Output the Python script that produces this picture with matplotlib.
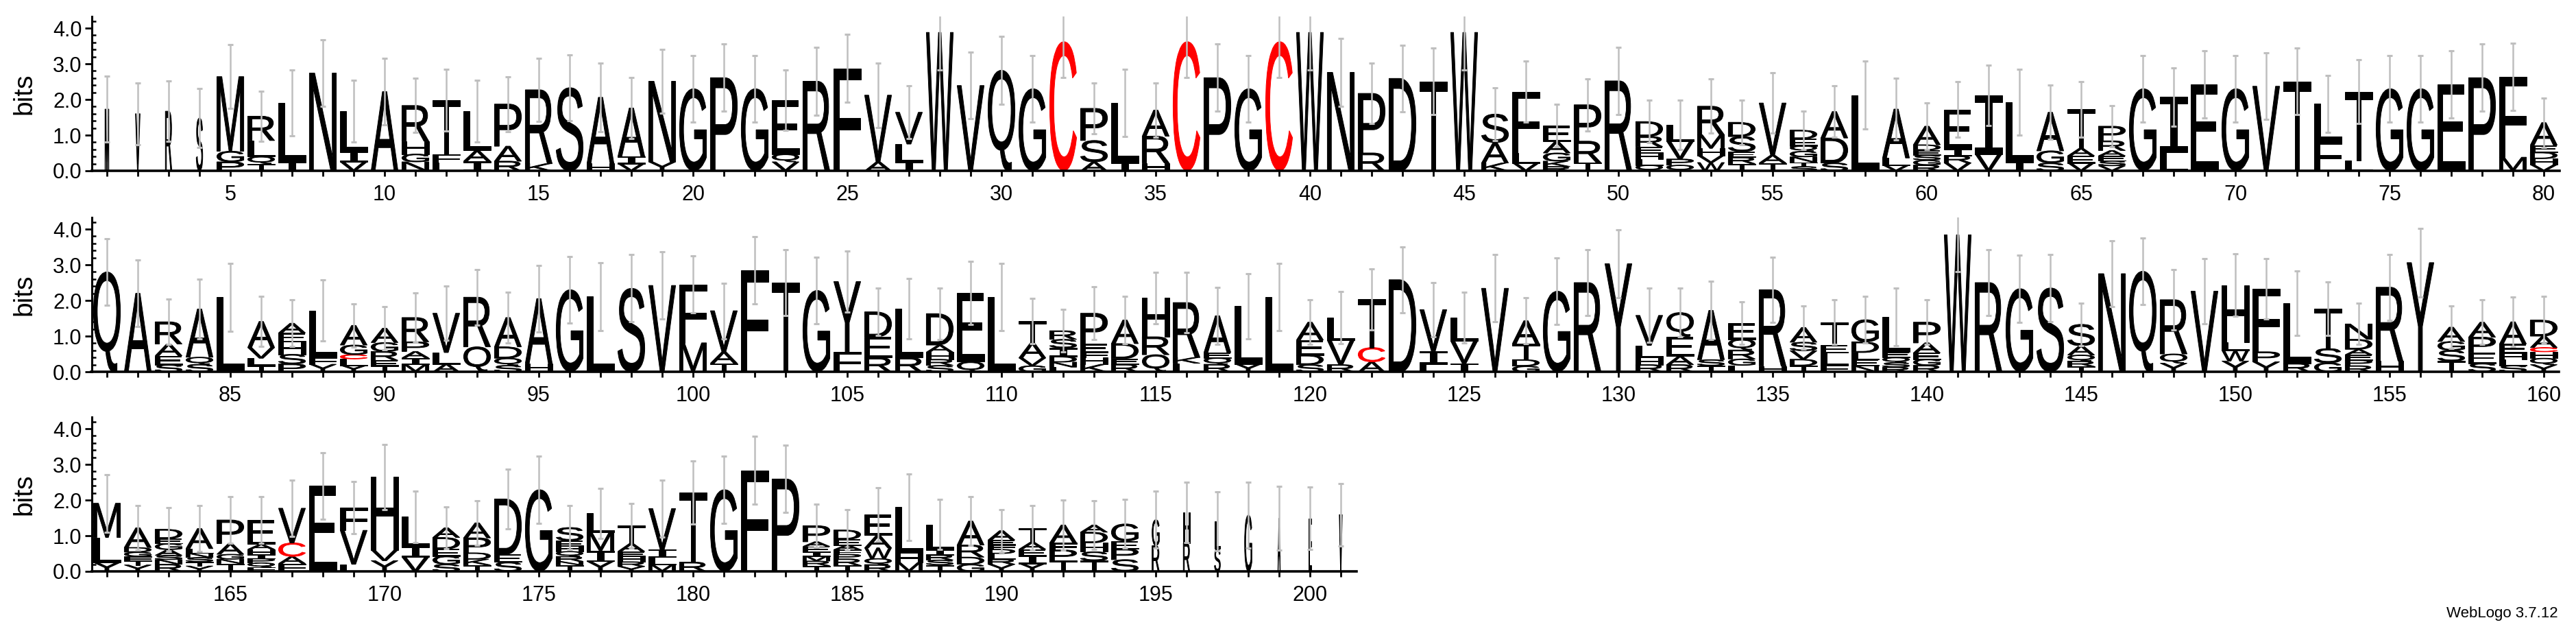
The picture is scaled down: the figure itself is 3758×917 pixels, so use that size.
import matplotlib
matplotlib.use("Agg")
import matplotlib.pyplot as plt
from matplotlib.textpath import TextPath
from matplotlib.font_manager import FontProperties
from matplotlib.patches import PathPatch
from matplotlib.transforms import Affine2D
from matplotlib.ticker import MultipleLocator, FixedLocator

# ---------------- data (letters top -> bottom, height in bits) ----------------
stacks_1_80 = [
    "M1.73", "V1.60", "R1.67", "S1.48", "M2.09 G0.30 P0.25",
    "R0.68 L0.45 Q0.20 T0.20", "L1.65 I0.25", "N2.74", "L1.12 I0.30 V0.25", "A2.22",
    "R1.00 H0.36 G0.22 N0.25", "T1.52 F0.23 L0.23", "L1.10 A0.30 I0.27", "P1.18 A0.42 R0.27", "R2.07 K0.20",
    "S2.33", "A1.85 H0.21", "A1.36 I0.20 V0.20", "N2.26 Y0.25", "G2.30",
    "P2.61", "G2.30", "E1.51 Q0.22 V0.25", "R2.51", "F2.87",
    "V1.87 A0.25", "V0.89 L0.50 I0.25", "W3.88", "V2.39", "Q2.82",
    "G2.30", "C3.62", "P0.90 S0.60 A0.25", "L1.67 I0.23", "A0.73 R0.75 H0.22",
    "C3.62", "P2.61", "G2.30", "C3.62", "W3.88",
    "N2.76", "P1.67 R0.50", "D2.59", "T2.51", "W3.88",
    "S0.80 A0.57 K0.22", "F1.72 L0.28 V0.22", "E0.45 A0.32 G0.23 K0.15 R0.12", "P1.02 R0.60 T0.23", "R2.52",
    "D0.42 R0.28 E0.18 H0.17 L0.17 Q0.16", "L0.46 V0.50 P0.17 Q0.16", "R0.80 M0.38 H0.20 V0.20 W0.23",
    "D0.40 S0.42 E0.16 R0.18 T0.20", "V1.46 A0.22 T0.22",
    "D0.24 E0.20 Q0.15 G0.16 N0.15 T0.12 S0.12", "A0.74 D0.70 S0.22", "L2.12", "A1.37 L0.20 V0.16",
    "A0.52 D0.15 E0.14 S0.14 G0.14 R0.16",
    "E1.10 I0.20 R0.20 V0.22", "I1.65 V0.47", "L1.67 I0.25", "A1.08 G0.34 S0.22", "T1.10 A0.21 E0.20 V0.22",
    "P0.41 R0.27 A0.15 E0.14 S0.14 V0.14", "G2.30", "I1.56 L0.51", "E2.43", "G2.30",
    "V2.37", "T2.51", "L1.04 F0.84", "T1.94 L0.28", "G2.30",
    "G2.30", "E2.43", "P2.61", "F2.25 M0.38", "A0.63 E0.20 D0.18 H0.17 V0.17",
]
errors_1_80 = [
    0.93, 0.87, 0.85, 0.83, 0.89, 0.70, 0.92, 0.94, 0.87, 0.93,
    0.76, 0.86, 0.87, 0.77, 0.89, 0.93, 0.96, 0.85, 0.90, 0.94,
    0.94, 0.94, 0.85, 0.95, 0.95, 0.90, 0.74, 1.06, 0.93, 0.95,
    0.94, 1.01, 0.72, 0.94, 0.76, 1.01, 0.94, 0.94, 1.01, 1.06,
    0.95, 0.85, 0.93, 0.94, 1.06, 0.74, 0.86, 0.60, 0.73, 0.95,
    0.60, 0.70, 0.76, 0.62, 0.85, 0.54, 0.72, 0.95, 0.86, 0.66,
    0.78, 0.85, 0.92, 0.76, 0.78, 0.58, 0.94, 0.82, 0.94, 0.94,
    0.93, 0.94, 0.80, 0.90, 0.94, 0.94, 0.94, 0.94, 0.94, 0.69,
]

stacks_81_160 = [
    "Q2.80", "A2.20", "R0.62 A0.33 E0.25 S0.20", "A1.35 Q0.20 S0.21", "L2.09",
    "A0.73 V0.30 L0.20 T0.18", "A0.27 E0.25 H0.35 S0.27 P0.22", "L1.31 F0.20 Y0.21",
    "A0.55 G0.27 C0.12 L0.18 Y0.18", "A0.40 G0.25 R0.25 E0.15 T0.17",
    "R0.68 P0.27 A0.18 I0.18 M0.21", "V1.10 L0.32 A0.22", "R1.39 Q0.70", "A0.82 D0.32 Q0.20 S0.18", "A1.81 H0.24",
    "G2.30", "L2.11", "S2.34", "V2.42", "F1.64 M0.81",
    "V1.15 A0.32 T0.24", "F2.84", "T2.50", "G2.28", "Y1.97 F0.56",
    "D0.70 E0.58 R0.40", "L1.37 R0.40", "D0.88 A0.20 H0.20 R0.17 S0.18", "E1.93 Q0.28", "L2.09",
    "T0.61 A0.42 V0.22 G0.17", "R0.24 S0.24 I0.24 D0.16 N0.14 L0.13", "P0.86 E0.22 F0.15 H0.20 K0.21",
    "A0.66 D0.42 E0.16 R0.21", "H1.09 R0.50 Q0.48",
    "R1.54 K0.16 L0.24", "A1.03 E0.15 Q0.18 R0.21", "L1.62 Y0.22", "L2.09", "A0.50 E0.42 D0.27 S0.20",
    "L0.64 V0.68 R0.20", "T1.35 C0.40 A0.28", "D2.58", "V1.16 I0.36 L0.22", "L0.66 V0.62 I0.24",
    "V2.34", "A0.64 T0.45 D0.18 G0.16", "G2.26", "R2.50", "Y3.03",
    "V0.84 L0.34 H0.20 R0.20", "Q0.67 E0.55 A0.24 R0.20", "A1.38 S0.17 T0.17", "E0.45 Q0.30 R0.25 G0.18 L0.18",
    "R2.14 H0.16",
    "A0.41 S0.24 V0.24 D0.18 T0.17", "T0.64 E0.22 L0.33 F0.20", "G0.62 D0.30 L0.20 E0.17 N0.17",
    "L0.98 E0.16 Q0.14 S0.13 R0.13", "P0.58 A0.28 E0.18 G0.17 R0.18",
    "W3.84", "R2.50", "G2.33", "S2.35", "S0.60 A0.26 Q0.17 R0.15 T0.15",
    "N2.75", "Q2.82", "R1.52 Q0.26 Y0.24", "V2.26", "H1.60 L0.23 W0.30 Y0.30",
    "F1.77 P0.28 Y0.28", "L1.68 R0.24", "T1.12 S0.40 G0.25", "N0.43 D0.28 A0.15 E0.15 P0.16 R0.17", "R2.07 H0.30",
    "Y3.06", "A0.40 G0.25 S0.30 T0.30", "A0.42 P0.43 E0.30 S0.24", "A0.62 E0.26 H0.18 L0.16 S0.18",
    "D0.45 A0.32 C0.12 H0.18 Q0.18 Y0.20",
]
errors_81_160 = [
    0.94, 0.94, 0.63, 0.84, 0.95, 0.70, 0.65, 0.85, 0.61, 0.60,
    0.69, 0.76, 0.78, 0.72, 0.94, 0.94, 0.95, 0.94, 0.94, 0.80,
    0.78, 0.94, 0.93, 0.94, 0.85, 0.67, 0.84, 0.72, 0.89, 0.94,
    0.64, 0.60, 0.74, 0.67, 0.72, 0.84, 0.80, 0.91, 0.94, 0.62,
    0.73, 0.85, 0.93, 0.76, 0.72, 0.94, 0.65, 0.94, 0.93, 0.95,
    0.76, 0.68, 0.82, 0.60, 0.91, 0.60, 0.63, 0.66, 0.80, 0.63,
    1.04, 0.93, 0.94, 0.94, 0.60, 0.92, 0.94, 0.84, 0.92, 0.87,
    0.84, 0.91, 0.75, 0.58, 0.92, 0.96, 0.60, 0.63, 0.69, 0.67,
]

stacks_161_201 = [
    "M0.96 L0.70 Y0.25", "A0.55 D0.13 G0.12 F0.12 T0.12 Y0.18", "D0.26 E0.14 G0.17 A0.16 S0.12 N0.13 R0.20",
    "A0.56 L0.13 N0.12 S0.12 T0.12 Y0.15", "P0.66 A0.30 G0.14 N0.12 T0.22",
    "E0.68 A0.14 H0.14 I0.12 P0.12 Q0.12 F0.12", "V0.97 C0.38 A0.20 F0.22", "E2.40", "F0.64 V0.95 L0.20",
    "H2.05 V0.30 Y0.30",
    "L0.83 I0.30 V0.40", "A0.27 D0.32 E0.20 G0.23 S0.20", "A0.42 P0.42 D0.18 K0.16 T0.18", "D1.55 E0.22 S0.26",
    "G2.29",
    "S0.37 E0.15 H0.15 Q0.14 R0.14 N0.10 T0.18", "L0.53 M0.52 I0.30 Y0.28", "T0.50 A0.22 E0.14 H0.15 R0.13 Y0.14",
    "V1.15 I0.20 L0.22 M0.19", "T1.95 R0.26",
    "G2.29", "F2.83", "P2.59", "P0.45 A0.13 E0.15 I0.12 M0.14 R0.13 T0.16",
    "D0.26 E0.16 A0.13 F0.13 P0.13 R0.18 T0.17",
    "E0.58 A0.35 W0.30 Q0.17 R0.19", "L1.29 H0.26 M0.25", "L0.70 I0.15 R0.14 S0.14 T0.18", "A0.67 R0.34 D0.20 G0.20",
    "A0.26 E0.13 F0.13 D0.12 L0.16 R0.14 Y0.20",
    "T0.40 A0.20 E0.18 I0.22 Y0.22", "A0.50 F0.20 P0.30 T0.30", "A0.20 D0.30 H0.25 S0.25 T0.30",
    "G0.48 E0.22 P0.30 S0.33", "G0.73 R0.72",
    "H0.86 R0.79", "L0.77 S0.63", "G1.58", "A1.49", "E1.49", "V1.59",
]
errors_161_201 = [
    0.81, 0.63, 0.60, 0.65, 0.66, 0.66, 0.79, 0.93, 0.73, 0.91,
    0.72, 0.58, 0.62, 0.84, 0.94, 0.62, 0.70, 0.62, 0.80, 0.89,
    0.94, 0.95, 0.94, 0.60, 0.57, 0.75, 0.93, 0.70, 0.68, 0.60,
    0.63, 0.70, 0.68, 0.68, 0.80, 0.85, 0.83, 0.92, 0.89, 0.87, 0.88,
]

# relative stack widths of gap-rich columns (others are full width)
stack_weight = {1: 0.14, 2: 0.17, 3: 0.24, 4: 0.24,
                195: 0.27, 196: 0.24, 197: 0.22, 198: 0.27, 199: 0.09, 200: 0.11, 201: 0.11}

letter_colors = {"C": "#ff0000"}
rows = [(1, 80, stacks_1_80, errors_1_80),
        (81, 160, stacks_81_160, errors_81_160),
        (161, 201, stacks_161_201, errors_161_201)]

# ---------------- drawing ----------------
W, H = 3758, 917
fig = plt.figure(figsize=(W / 100, H / 100), dpi=100)

fp_main = FontProperties(family="Liberation Sans", weight="normal")
fp_i = FontProperties(family="DejaVu Sans Mono", weight="normal")
_cache = {}


def glyph(ch):
    if ch not in _cache:
        tp = TextPath((0, 0), ch, size=1, prop=fp_i if ch == "I" else fp_main)
        _cache[ch] = (tp, tp.get_extents())
    return _cache[ch]


def draw_letter(ax, ch, x, y0, w, h, color):
    tp, bb = glyph(ch)
    t = (Affine2D().translate(-bb.x0, -bb.y0)
         .scale(w / bb.width, h / bb.height)
         .translate(x - w / 2, y0))
    ax.add_patch(PathPatch(t.transform_path(tp), facecolor=color, edgecolor=color,
                           lw=0.7, joinstyle="miter", zorder=2))


px_per_pos = 45.0
left_px = 133.5
ax_h_px = 224.6
bottoms_px = [249, 542, 833]  # y of zero line (from top)

for (start, end, stacks, errs), zero_px in zip(rows, bottoms_px):
    n = end - start + 1
    ax = fig.add_axes([left_px / W, (H - zero_px) / H, n * px_per_pos / W, ax_h_px / H])
    ax.set_xlim(start - 0.5, end + 0.5)
    ax.set_ylim(0, 4.32)
    xs, tops = [], []
    for i, s in enumerate(stacks):
        p = start + i
        toks = [(t[0], float(t[1:])) for t in s.split()]
        w = 0.87 * stack_weight.get(p, 1.0)
        y = 0.0
        for ch, h in reversed(toks):
            draw_letter(ax, ch, p, y, w, h, letter_colors.get(ch, "black"))
            y += h
        xs.append(p)
        tops.append(y)
    ax.errorbar(xs, tops, yerr=errs, fmt="none", ecolor="#bfbfbf",
                elinewidth=1.8, capsize=3.0, capthick=2.2, zorder=5)

    for sp in ("top", "right"):
        ax.spines[sp].set_visible(False)
    ax.spines["left"].set_linewidth(2.2)
    ax.spines["bottom"].set_linewidth(2.6)

    ax.xaxis.set_major_locator(FixedLocator(list(range(start, end + 1))))
    ax.set_xticklabels([str(p) if p % 5 == 0 else "" for p in range(start, end + 1)])
    ax.tick_params(axis="x", length=5.5, width=2, pad=9, labelsize=22)
    ax.yaxis.set_minor_locator(MultipleLocator(0.2))
    ax.set_yticks([0, 1, 2, 3, 4])
    ax.set_yticklabels(["0.0", "1.0", "2.0", "3.0", "4.0"])
    ax.tick_params(axis="y", which="major", length=7, width=2, pad=3, labelsize=22)
    ax.tick_params(axis="y", which="minor", direction="in", length=4, width=1.8)
    for lab in ax.get_xticklabels() + ax.get_yticklabels():
        lab.set_family("Liberation Sans")

    fig.text(35 / W, (H - zero_px + ax_h_px / 2) / H, "bits", rotation=90,
             ha="center", va="center", fontsize=28, family="Liberation Sans")

fig.text(3732 / W, 1 - 900 / H, "WebLogo 3.7.12", ha="right", va="baseline",
         fontsize=16, family="Liberation Sans")

fig.savefig("out.png", dpi=100)
